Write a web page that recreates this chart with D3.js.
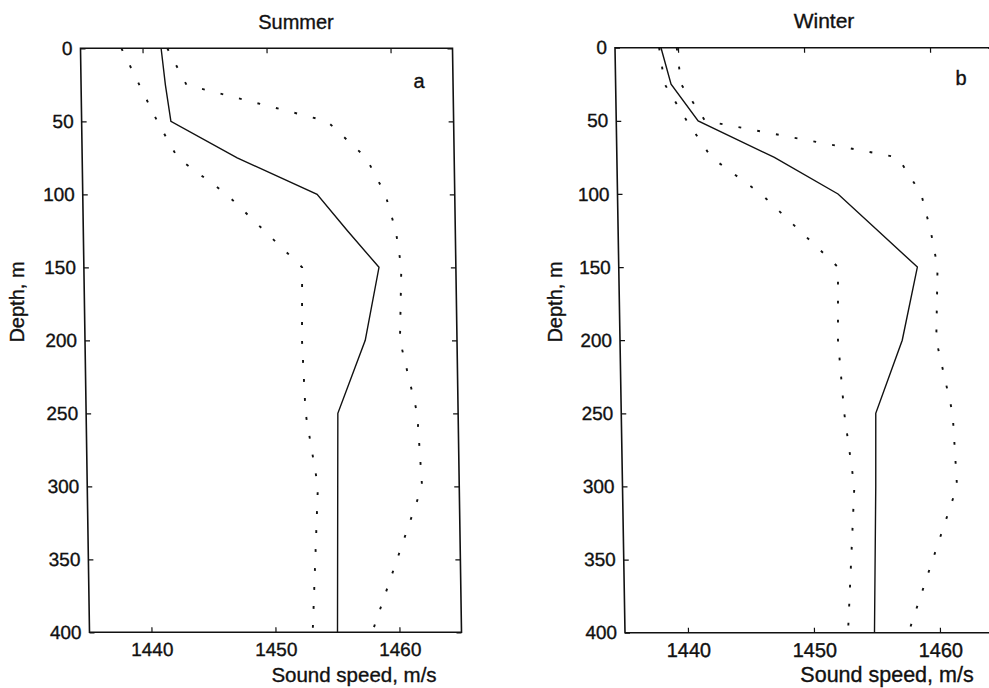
<!DOCTYPE html>
<html>
<head>
<meta charset="utf-8">
<script src="https://cdn.jsdelivr.net/npm/d3@7"></script>
<style>
  html, body { margin: 0; padding: 0; background: #fff; overflow: hidden; }
  svg { display: block; font-family: "Liberation Sans", Arial, Helvetica, sans-serif; }
  text { stroke: #111; stroke-width: 0.35px; }
</style>
</head>
<body>
<svg id="chart" width="989" height="688"></svg>
<script>
// depth levels (m) shared by every profile
const depth = [0, 25, 50, 75, 100, 125, 150, 200, 250, 300, 400];

// sound speed, m/s  (solid = mean, dotted = min / max)
const summerMean = [1441.5, 1441.8, 1442.2, 1447.5, 1453.9, 1456.3, 1458.8, 1457.6, 1455.3, 1455.2, 1455.0];
const summerMin  = [1438.3, 1439.7, 1441.1, 1442.7, 1446.6, 1449.6, 1452.6, 1452.5, 1452.7, 1453.6, 1453.0];
const summerMax  = [1442.0, 1443.5, 1454.8, 1457.9, 1459.4, 1460.2, 1460.6, 1460.4, 1461.7, 1462.0, 1457.8];

const winterMean = [1438.65, 1439.4, 1441.5, 1447.5, 1452.5, 1455.6, 1458.7, 1457.4, 1455.2, 1455.1, 1454.8];
const winterMin  = [1438.5, 1438.9, 1440.6, 1442.5, 1446.4, 1449.4, 1452.4, 1452.3, 1452.7, 1453.4, 1452.7];
const winterMax  = [1439.9, 1440.2, 1442.05, 1457.3, 1459.1, 1459.8, 1460.3, 1460.1, 1461.3, 1461.55, 1457.5];

const speedDomain = [1435, 1465];
const speedTicks = [1440, 1450, 1460];
const depthTicks = [0, 50, 100, 150, 200, 250, 300, 350, 400];

const svg = d3.select("#chart");
svg.append("rect").attr("width", 989).attr("height", 688).attr("fill", "#fff");

// the scan leans a little: each frame is skewed by a few pixels top to bottom
const panels = [
  { title: "Summer", tag: "a", mean: summerMean, min: summerMin, max: summerMax,
    x0: 80.5, y0: 48.3, w: 372, h: 584, lean: 9,
    titleX: 296, tagX: 419, tagY: 88, depthX: 24, speedX: 354, fs: 19 },
  { title: "Winter", tag: "b", mean: winterMean, min: winterMin, max: winterMax,
    x0: 615, y0: 47.7, w: 378, h: 585, lean: 10,
    titleX: 824, tagX: 961, tagY: 85, depthX: 562, speedX: 887, fs: 20 }
];

panels.forEach(p => {
  const x = d3.scaleLinear().domain(speedDomain).range([0, p.w]);
  const y = d3.scaleLinear().domain([0, 400]).range([0, p.h]);
  const skew = Math.atan(p.lean / p.h) * 180 / Math.PI;

  const g = svg.append("g")
    .attr("transform", `translate(${p.x0},${p.y0}) skewX(${skew})`);

  const left = g.append("g").call(d3.axisLeft(y).tickValues(depthTicks)
    .tickSizeInner(-5).tickSizeOuter(0).tickPadding(8).tickFormat(d3.format("d")));
  const right = g.append("g").attr("transform", `translate(${p.w},0)`)
    .call(d3.axisRight(y).tickValues(depthTicks).tickSizeInner(-5).tickSizeOuter(0).tickFormat(""));
  const top = g.append("g")
    .call(d3.axisTop(x).tickValues(speedTicks).tickSizeInner(-5).tickSizeOuter(0).tickFormat(""));
  const bottom = g.append("g").attr("transform", `translate(0,${p.h})`)
    .call(d3.axisBottom(x).tickValues(speedTicks).tickSizeInner(-5).tickSizeOuter(0)
      .tickPadding(10).tickFormat(d3.format("d")));

  [left, right, top, bottom].forEach(a => {
    a.select(".domain").remove();
    a.selectAll("line").attr("stroke", "#111").attr("stroke-width", 1.2);
    a.selectAll("text").attr("fill", "#111").style("font-size", p.fs + "px");
  });
  left.selectAll("text").style("font-size", "19px");

  g.append("rect")
    .attr("width", p.w).attr("height", p.h)
    .attr("fill", "none").attr("stroke", "#111").attr("stroke-width", 1.6);

  const line = d3.line()
    .x(d => x(d[1]))
    .y(d => y(d[0]));

  [[p.min, true], [p.max, true], [p.mean, false]].forEach(([vals, dotted]) => {
    g.append("path")
      .datum(depth.map((d, i) => [d, vals[i]]))
      .attr("d", line)
      .attr("fill", "none")
      .attr("stroke", "#111")
      .attr("stroke-width", dotted ? 1.9 : 1.4)
      .attr("stroke-dasharray", dotted ? "2.8 16.2" : null);
  });

  svg.append("text")
    .attr("x", p.titleX).attr("y", p.tag === "a" ? 29 : 28)
    .attr("text-anchor", "middle")
    .style("font-size", p.tag === "a" ? "20px" : "21px")
    .attr("fill", "#111")
    .text(p.title);

  svg.append("text")
    .attr("x", p.tagX).attr("y", p.tagY)
    .attr("text-anchor", "middle")
    .style("font-size", "20px")
    .attr("fill", "#111")
    .text(p.tag);

  svg.append("text")
    .attr("transform", `translate(${p.depthX},302) rotate(-90)`)
    .attr("text-anchor", "middle")
    .style("font-size", "20px")
    .attr("fill", "#111")
    .text("Depth, m");

  svg.append("text")
    .attr("x", p.speedX).attr("y", 682)
    .attr("text-anchor", "middle")
    .style("font-size", p.tag === "a" ? "20.5px" : "21.5px")
    .attr("fill", "#111")
    .text("Sound speed, m/s");
});
</script>
</body>
</html>
